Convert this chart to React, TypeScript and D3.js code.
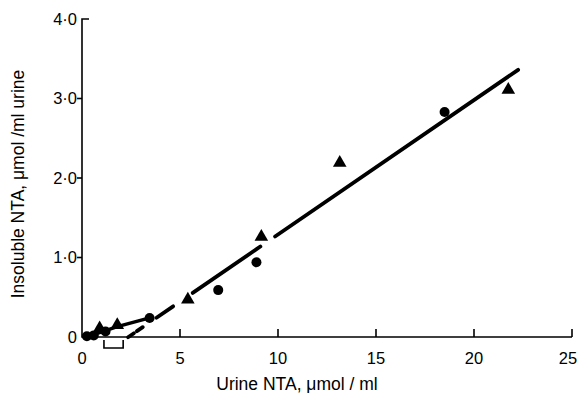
import React from "react";
import * as d3 from "d3";

const xTicks = [0, 5, 10, 15, 20, 25];
const yTicks = [0, 1, 2, 3, 4];
const yTickLabels = ["0", "1·0", "2·0", "3·0", "4·0"];

const circles: [number, number][] = [
  [0.25, 0.01], [0.6, 0.02], [1.2, 0.07], [3.45, 0.24], [6.95, 0.59], [8.9, 0.94], [18.5, 2.83],
];
const triangles: [number, number][] = [
  [0.9, 0.11], [1.8, 0.15], [5.4, 0.47], [9.15, 1.26], [13.15, 2.19], [21.75, 3.11],
];
// low-range connecting line
const lowLine: [number, number][] = [
  [0, 0.01], [0.6, 0.03], [1.2, 0.08], [1.8, 0.13], [3.45, 0.24],
];
// regression line y = slope*x + intercept, drawn in broken segments
const slope = 0.169;
const intercept = -0.4;
const regSegments: [number, number][] = [
  [2.35, 2.65], [2.8, 3.1], [3.8, 4.65], [5.65, 9.1], [9.85, 22.25],
];
const bracket: [number, number] = [1.12, 2.1];

const W = 579, H = 393;
const x = d3.scaleLinear().domain([0, 25]).range([82, 572]);
const y = d3.scaleLinear().domain([0, 4]).range([337, 19]);
const font = "'Liberation Sans', Arial, Helvetica, sans-serif";

export default function App() {
  const line = d3.line<[number, number]>().x(d => x(d[0])).y(d => y(d[1]));
  const tri = d3.symbol().type(d3.symbolTriangle).size(80)();
  return (
    <svg width={W} height={H} style={{ position: "absolute", left: 0, top: 0, background: "#fff" }}>
      {/* axes */}
      <g stroke="#000" strokeWidth={1.6} fill="none">
        <path d={`M${x(0) + 7},${y(4)}H${x(0)}V${y(0)}H${x(25)}`} />
        {yTicks.filter(t => t > 0 && t < 4).map(t => (
          <line key={t} x1={x(0) - 5} x2={x(0)} y1={y(t)} y2={y(t)} />
        ))}
        {xTicks.filter(t => t > 0).map(t => (
          <line key={t} x1={x(t)} x2={x(t)} y1={y(0)} y2={y(0) - 8} />
        ))}
        <path d={`M${x(bracket[0])},${y(0) + 3}V${y(0) + 11}H${x(bracket[1])}V${y(0) + 3}`} />
      </g>
      {/* tick labels */}
      <g fontFamily={font} fontSize={16.5} fill="#000">
        {yTicks.map((t, i) => (
          <text key={t} x={x(0) - 5} y={y(t)} dy="0.36em" textAnchor="end">{yTickLabels[i]}</text>
        ))}
        {xTicks.map(t => (
          <text key={t} x={Math.min(x(t), W - 11)} y={364} textAnchor="middle">{t}</text>
        ))}
      </g>
      {/* titles */}
      <text x={297} y={390} textAnchor="middle" fontFamily={font} fontSize={17.5}>Urine NTA, μmol / ml</text>
      <text transform={`translate(24,184) rotate(-90)`} textAnchor="middle" fontFamily={font} fontSize={17.5}>
        Insoluble NTA, μmol /ml urine
      </text>
      {/* lines */}
      <path d={line(lowLine) || ""} stroke="#000" strokeWidth={3.5} fill="none" />
      {regSegments.map((s, i) => (
        <path key={i} d={line([[s[0], slope * s[0] + intercept], [s[1], slope * s[1] + intercept]]) || ""}
          stroke="#000" strokeWidth={3.8} fill="none" strokeLinecap="round" />
      ))}
      {/* markers */}
      {circles.map((d, i) => (
        <circle key={i} cx={x(d[0])} cy={y(d[1])} r={5} fill="#000" />
      ))}
      {triangles.map((d, i) => (
        <path key={i} d={tri || ""} transform={`translate(${x(d[0])},${y(d[1])})`} fill="#000" />
      ))}
    </svg>
  );
}
